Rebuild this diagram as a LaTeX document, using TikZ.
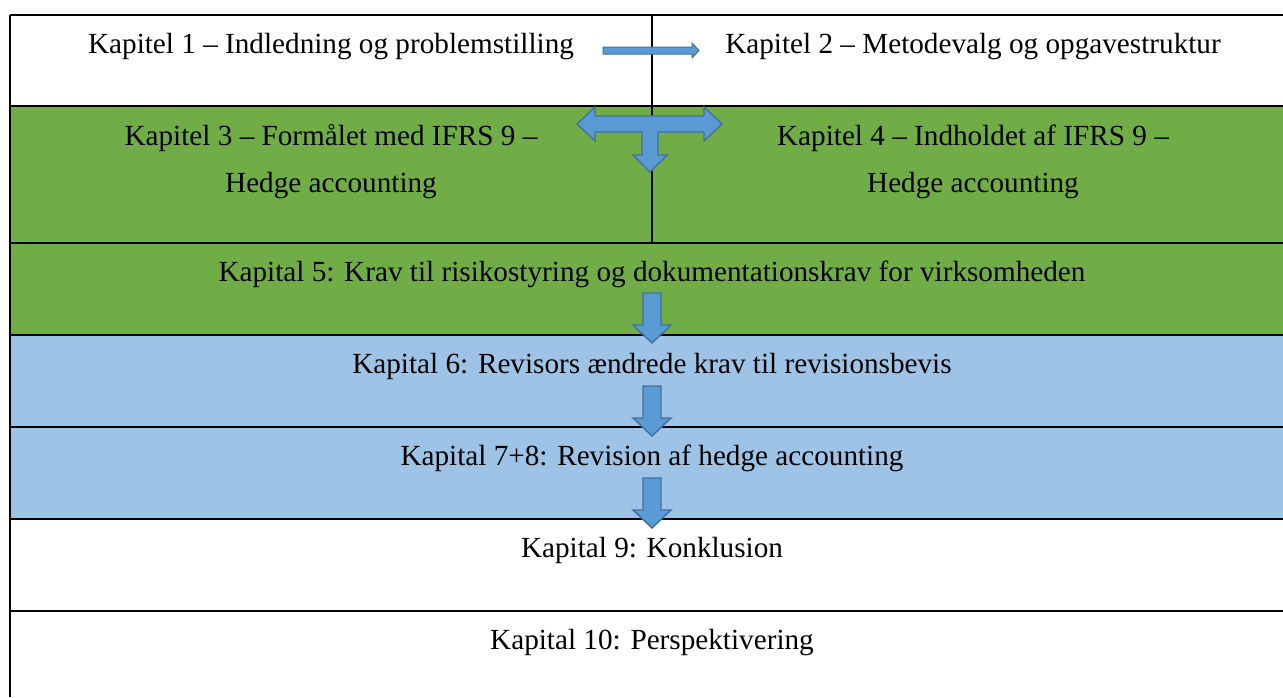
\documentclass[tikz,border=0pt]{standalone}
\usepackage{fontspec}
\setmainfont{Liberation Serif}
\definecolor{rowgreen}{HTML}{70AD47}
\definecolor{rowblue}{HTML}{9DC3E6}
\definecolor{arrowfill}{HTML}{5B9BD5}
\definecolor{arrowline}{HTML}{41719C}
\tikzset{
  rowline/.style={draw=black, line width=2.2pt},
  celltext/.style={font=\fontsize{29.2}{47}\selectfont, text=black, anchor=base,
    align=center, inner sep=0pt},
  blockarrow/.style={fill=arrowfill, draw=arrowline, line width=1.4pt, line join=miter}
}

\begin{document}
\begin{tikzpicture}[x=1pt,y=-1pt]
  % Chapter overview laid out as a table with block arrows.
  \clip (0,0) rectangle (1283,697);
  \fill[white] (0,0) rectangle (1283,697);
  \fill[rowgreen] (10,106) rectangle (1294,335);
  \fill[rowblue] (10,335) rectangle (1294,519);
  \foreach \y in {15,106,243,335,427,519,611}
    \draw[rowline] (10,\y) -- (1294,\y);
  \draw[rowline] (10,15) -- (10,697);
  \draw[rowline] (652,15) -- (652,243);
  \draw[rowline] (1294,15) -- (1294,697);

  % base anchor of a two-line node sits on its last line
  \node[celltext] (kap1) at (331,53) {Kapitel 1 – Indledning og problemstilling};
  \node[celltext] (kap2) at (973,53) {Kapitel 2 – Metodevalg og opgavestruktur};
  \node[celltext] (kap3) at (331,192) {Kapitel 3 – Formålet med IFRS 9 –\\Hedge accounting};
  \node[celltext] (kap4) at (973,192) {Kapitel 4 – Indholdet af IFRS 9 –\\Hedge accounting};
  \node[celltext] (kap5) at (652,281) {Kapital 5: Krav til risikostyring og dokumentationskrav for virksomheden};
  \node[celltext] (kap6) at (652,373) {Kapital 6: Revisors ændrede krav til revisionsbevis};
  \node[celltext] (kap78) at (652,465) {Kapital 7+8: Revision af hedge accounting};
  \node[celltext] (kap9) at (652,557) {Kapital 9: Konklusion};
  \node[celltext] (kap10) at (652,649) {Kapital 10: Perspektivering};

  % block arrows
  \draw[blockarrow, line width=1pt] (603,47) -- (692,47) -- (692,43) -- (699,50.5)
    -- (692,58) -- (692,54) -- (603,54) -- cycle;
  \draw[blockarrow] (577,124) -- (595,107) -- (595,116) -- (704,116) -- (704,107)
    -- (722,124) -- (704,141) -- (704,132) -- (658,132) -- (658,155) -- (667,155)
    -- (650,172) -- (633,155) -- (642,155) -- (642,132) -- (595,132) -- (595,141) -- cycle;
  \foreach \t in {293,386,478}
    \draw[blockarrow] (643,\t) -- ++(18,0) -- ++(0,32) -- ++(10,0) -- ++(-19,18)
      -- ++(-19,-18) -- ++(10,0) -- cycle;
\end{tikzpicture}
\end{document}
